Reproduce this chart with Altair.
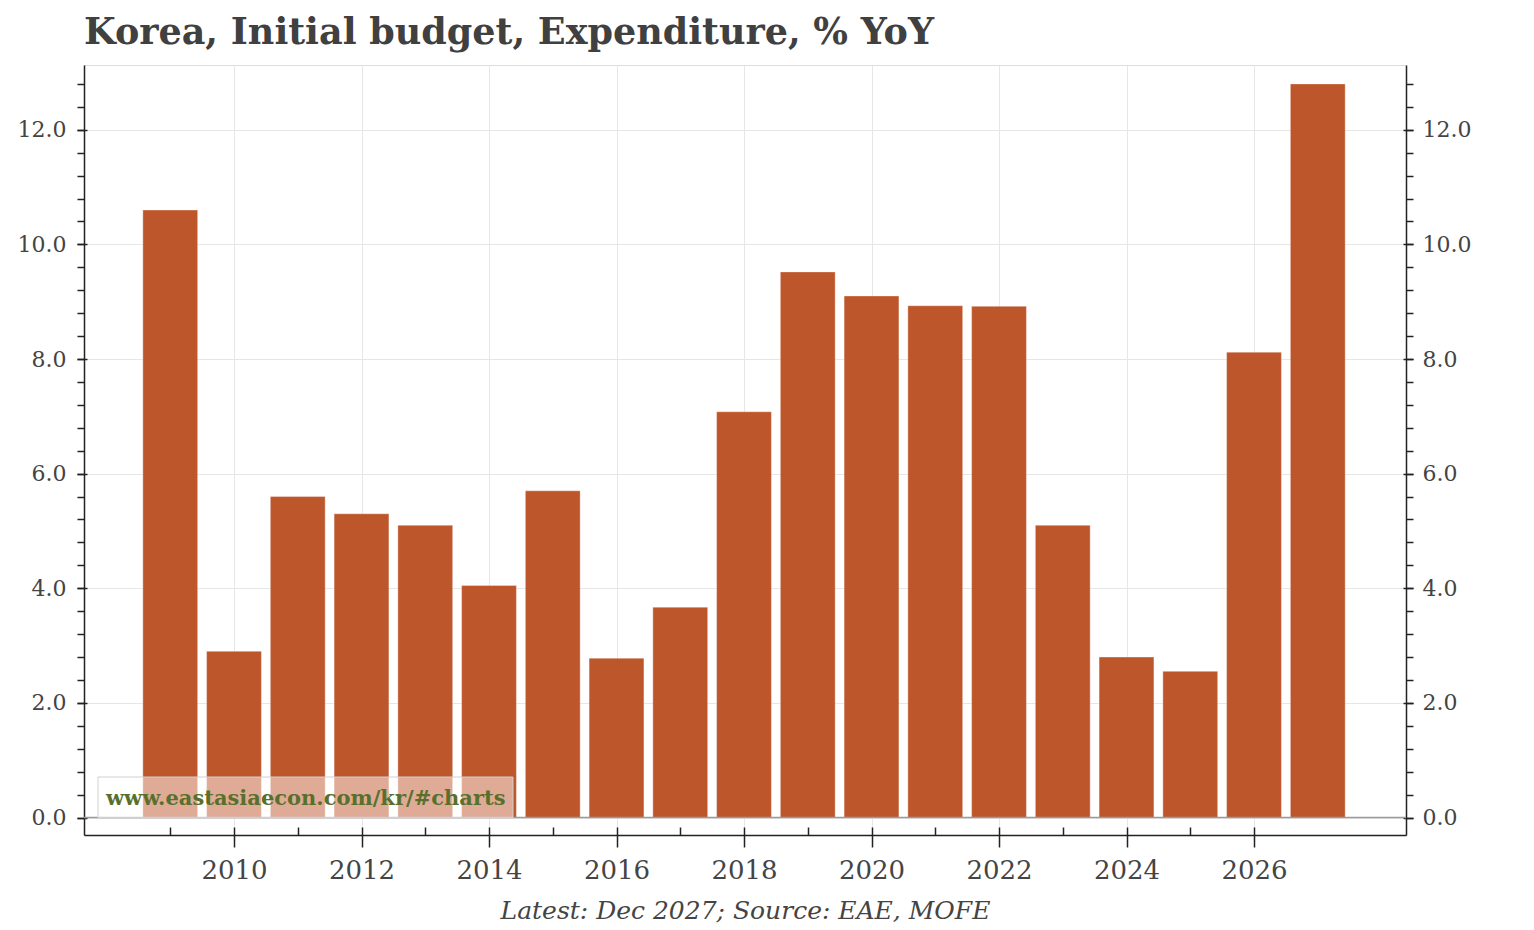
import altair as alt
import pandas as pd

# ---- data ----
years = [2009, 2010, 2011, 2012, 2013, 2014, 2015, 2016, 2017, 2018,
         2019, 2020, 2021, 2022, 2023, 2024, 2025, 2026, 2027]
values = [10.6, 2.9, 5.6, 5.3, 5.1, 4.05, 5.7, 2.78, 3.67, 7.08,
          9.52, 9.1, 8.93, 8.92, 5.1, 2.8, 2.55, 8.12, 12.8]

major_years = [2010, 2012, 2014, 2016, 2018, 2020, 2022, 2024, 2026]
minor_years = [2009, 2011, 2013, 2015, 2017, 2019, 2021, 2023, 2025]
major_y = [0, 2, 4, 6, 8, 10, 12]
minor_y = [0.0, 0.4, 0.8, 1.2, 1.6, 2.0, 2.4, 2.8, 3.2, 3.6, 4.0, 4.4, 4.8,
           5.2, 5.6, 6.0, 6.4, 6.8, 7.2, 7.6, 8.0, 8.4, 8.8, 9.2, 9.6, 10.0,
           10.4, 10.8, 11.2, 11.6, 12.0, 12.4, 12.8]

TITLE = "Korea, Initial budget, Expenditure, % YoY"
FOOTER = "Latest: Dec 2027; Source: EAE, MOFE"
WATERMARK = "www.eastasiaecon.com/kr/#charts"

df = pd.DataFrame({"year": years, "value": values})

FONT = "DejaVu Serif"
LABEL = "#444444"
TICK = "#222222"
GRID = "#e6e6e6"

xs = alt.Scale(domain=[2007.647, 2028.384], nice=False, zero=False)
ys = alt.Scale(domain=[-0.305, 13.13], nice=False, zero=False)

base = alt.Chart(df).transform_calculate(
    x0="datum.year - 0.43", x1="datum.year + 0.43"
)

# Bars: x major axis (labels + footer as title), y left major axis
bars = base.mark_rect(
    color="#bc5024", opacity=0.96, stroke="#ffffff", strokeOpacity=0.35, strokeWidth=1
).encode(
    x=alt.X("x0:Q", scale=xs, axis=alt.Axis(
        orient="bottom", values=major_years, format="d", offset=-8,
        tickSize=20, tickColor=TICK, tickWidth=1.5, domain=False, grid=False,
        labelFont=FONT, labelFontSize=26, labelColor=LABEL, labelPadding=10,
        labelOverlap=False, labelFlush=False,
        title=FOOTER, titleFont=FONT, titleFontStyle="italic",
        titleFontWeight="normal", titleFontSize=25, titleColor=LABEL,
        titlePadding=15)),
    x2="x1:Q",
    y=alt.Y("value:Q", scale=ys, axis=alt.Axis(
        orient="left", values=major_y, format=".1f", offset=-3,
        tickSize=10, tickColor=TICK, tickWidth=1.5, domain=False, grid=False,
        labelFont=FONT, labelFontSize=22, labelColor=LABEL, labelPadding=11,
        labelOverlap=False, labelFlush=False, title=None)),
    y2=alt.datum(0),
)

# Zero line: y left minor axis with the domain line
zero = alt.Chart(pd.DataFrame({"z": [0]})).mark_rule(
    color="#9a9a9a", strokeWidth=1.5
).encode(
    y=alt.YDatum(0, scale=ys, axis=alt.Axis(
        orient="left", values=minor_y, offset=0, tickSize=7, tickColor=TICK,
        tickWidth=1.5, domain=True, domainColor=TICK, domainWidth=1.5,
        labels=False, grid=False, title=None)),
)

# Invisible layer: x minor ticks, y right major axis
inv1 = base.mark_rect(opacity=0).encode(
    x=alt.X("x0:Q", scale=xs, axis=alt.Axis(
        orient="bottom", values=minor_years, offset=-8, tickSize=8,
        tickColor=TICK, tickWidth=1.5, domain=False, grid=False,
        labels=False, title=None)),
    x2="x1:Q",
    y=alt.Y("value:Q", scale=ys, axis=alt.Axis(
        orient="right", values=major_y, format=".1f", offset=-3,
        tickSize=10, tickColor=TICK, tickWidth=1.5, domain=False, grid=False,
        labelFont=FONT, labelFontSize=22, labelColor=LABEL, labelPadding=9,
        labelOverlap=False, labelFlush=False, title=None)),
    y2=alt.datum(0),
)

# Invisible layer: x grid + bottom domain, y right minor + domain
inv2 = base.mark_rect(opacity=0).encode(
    x=alt.X("x0:Q", scale=xs, axis=alt.Axis(
        orient="bottom", values=major_years, offset=0, ticks=False,
        labels=False, title=None, domain=True, domainColor=TICK,
        domainWidth=1.5, grid=True, gridColor=GRID, gridWidth=1)),
    x2="x1:Q",
    y=alt.Y("value:Q", scale=ys, axis=alt.Axis(
        orient="right", values=minor_y, offset=0, tickSize=7, tickColor=TICK,
        tickWidth=1.5, domain=True, domainColor=TICK, domainWidth=1.5,
        labels=False, grid=False, title=None)),
    y2=alt.datum(0),
)

# Invisible layer: y grid
inv3 = base.mark_rect(opacity=0).encode(
    x=alt.X("x0:Q", scale=xs, axis=None),
    x2="x1:Q",
    y=alt.Y("value:Q", scale=ys, axis=alt.Axis(
        orient="left", values=major_y, labels=False, title=None,
        domain=False, ticks=False, grid=True, gridColor=GRID, gridWidth=1)),
    y2=alt.datum(0),
)

wm_df = pd.DataFrame({"t": [WATERMARK]})
wm_box = alt.Chart(wm_df).mark_rect(
    fill="white", fillOpacity=0.5, stroke="#d0d0d0", strokeWidth=1
).encode(
    x=alt.value(14), x2=alt.value(429), y=alt.value(712), y2=alt.value(753)
)
wm_text = alt.Chart(wm_df).mark_text(
    align="left", baseline="middle", font=FONT, fontSize=21,
    fontWeight="bold", color="#58702c"
).encode(x=alt.value(22), y=alt.value(734), text="t:N")

chart = alt.layer(
    inv3, inv2, bars, zero, inv1, wm_box, wm_text
).resolve_axis(
    x="independent", y="independent"
).properties(
    width=1322,
    height=770,
    autosize="none",
    padding={"left": 76, "top": 57, "right": 100, "bottom": 95},
    title=alt.TitleParams(
        text=TITLE, anchor="start", frame="group", font=FONT, fontSize=36.5,
        fontWeight="bold", color="#404040", offset=14
    ),
).configure_view(
    stroke="#dddddd"
)

chart.save("out.html", embed_options={"renderer": "svg", "actions": False})
